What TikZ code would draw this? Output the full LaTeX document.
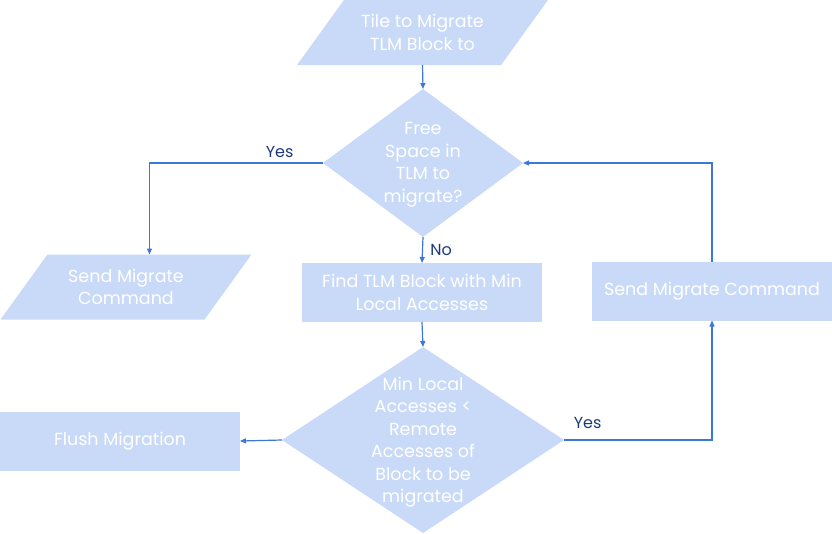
\documentclass[tikz,border=0pt]{standalone}
\usepackage{fontspec}
\setmainfont{Poppins}
\usetikzlibrary{shapes.geometric,arrows.meta}
\definecolor{boxblue}{HTML}{C9DAF8}
\definecolor{linkblue}{HTML}{3C78D8}
\definecolor{labelnavy}{HTML}{1C3A78}
\tikzset{
  base/.style={fill=boxblue, draw=none, text=white, inner sep=0pt, outer sep=0pt, align=center,
    font=\fontsize{17.5}{22.5}\selectfont},
  io/.style={base, trapezium, trapezium left angle=52.4, trapezium right angle=127.6,
    trapezium stretches body, inner ysep=12.5pt, minimum width=251pt, minimum height=65pt},
  process/.style={base, rectangle, minimum width=240pt, minimum height=59pt},
  decision/.style={base, diamond},
  link/.style={draw=linkblue, line width=1.2pt, -{Triangle[length=6pt,width=5pt]}},
  answer/.style={text=labelnavy, font=\fontsize{16}{19}\selectfont}
}
\begin{document}
\begin{tikzpicture}[x=1pt, y=-1pt]
			%%%%% START %%%%%
			\useasboundingbox (0,0) rectangle (832,533);
			
			\node[io] (tile) at (422.5,32.5) {Tile to Migrate\\TLM Block to};
			
			\node[decision, minimum width=200pt, minimum height=148pt] (free) at (423,163) {};
			\node[base, fill=none] (freetxt) at (423,165) {Free\\Space in\\TLM to\\migrate?};
			
			\node[io] (sendl) at (126,287) {Send Migrate\\Command};
			
			\node[process] (find) at (422,292.5) {Find TLM Block with Min\\Local Accesses};
			
			\node[process] (sendr) at (712,291) {Send Migrate Command};
			
			\node[decision, minimum width=282pt, minimum height=186pt] (min) at (423,440) {};
			\node[base, fill=none] (mintxt) at (423,442) {Min Local\\Accesses <\\Remote\\Accesses of\\Block to be\\migrated};
			
			\node[process] (flush) at (120,441) {Flush Migration};
			
			%% connectors
			\draw[link] (tile.center |- tile.south) -- (free.north);
			\draw[link] (free.west) -| (sendl.top side) node[answer, pos=0.125, above, yshift=1pt] {Yes};
			\draw[link] (free.south) -- (find.north) node[answer, midway, right, xshift=4pt] {No};
			\draw[link] (min.east) -| (sendr.south) node[answer, pos=0.08, above, yshift=7pt] {Yes};
			\draw[link] (find.south) -- (min.north);
			\draw[link] (sendr.north) |- (free.east);
			\draw[link] (min.west) -- (flush.east);
			%%%%% END %%%%%
		\end{tikzpicture}
\end{document}
